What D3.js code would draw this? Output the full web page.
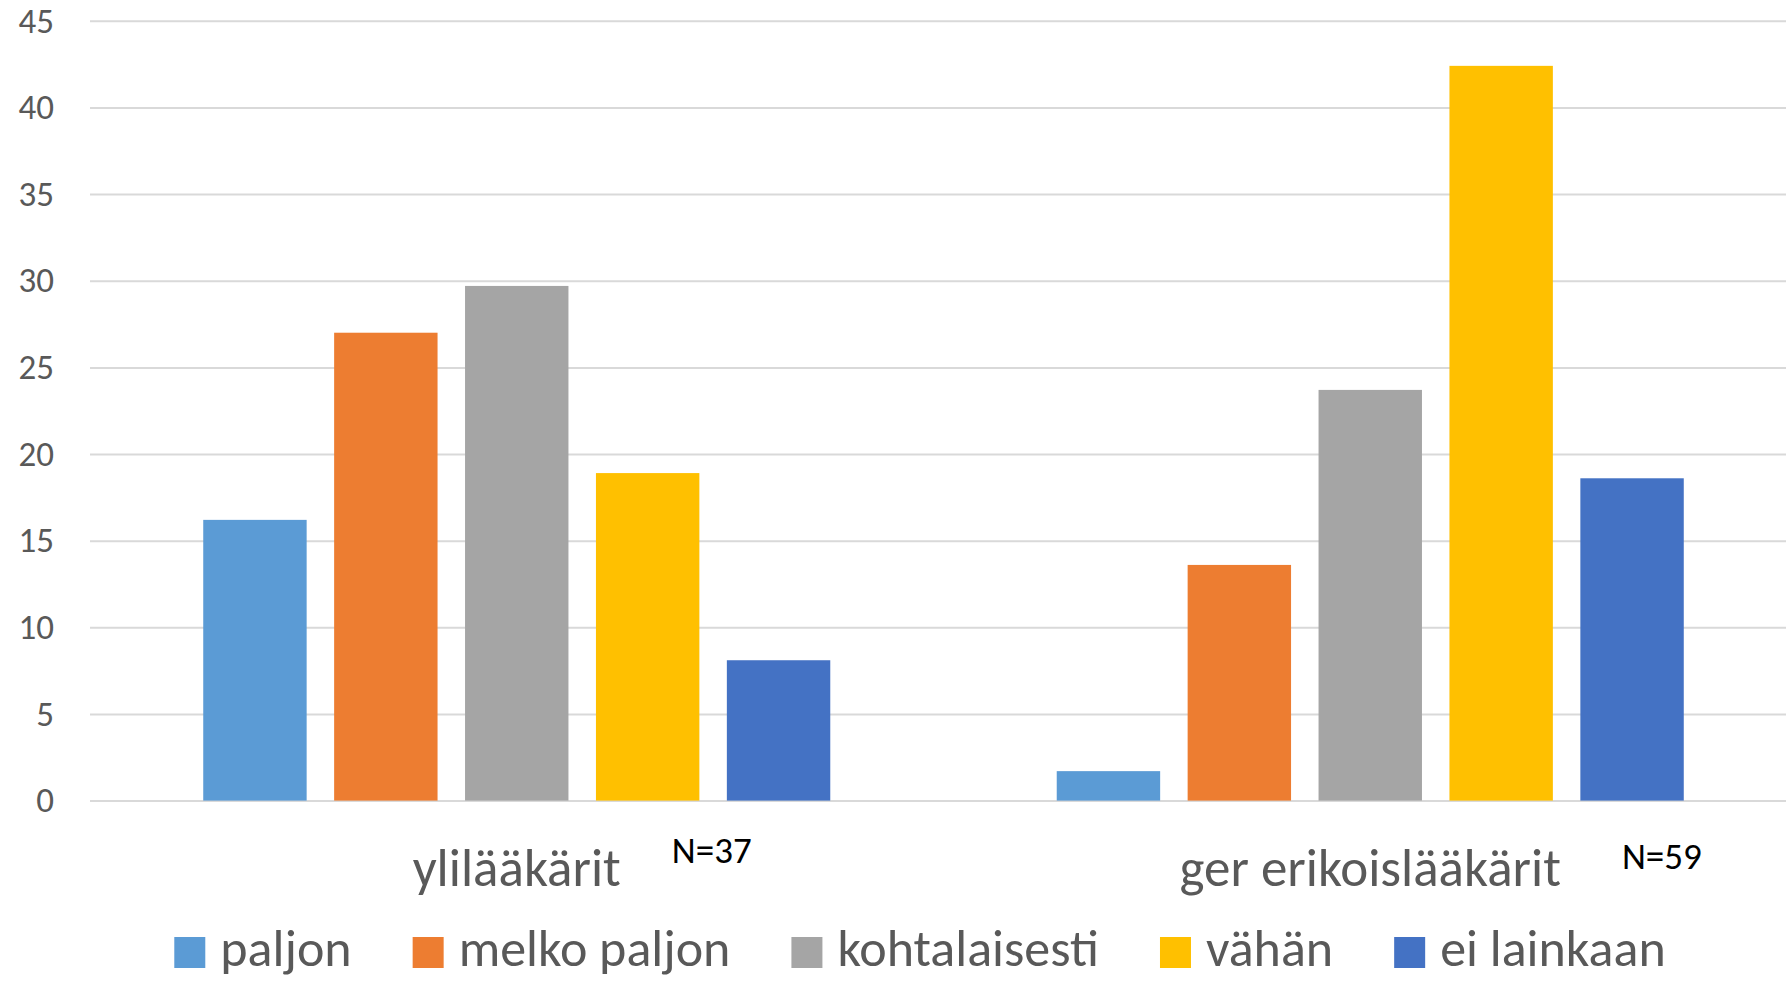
<!DOCTYPE html>
<html>
<head>
<meta charset="utf-8">
<script src="https://cdn.jsdelivr.net/npm/d3@7"></script>
<style>
  body { margin: 0; background: #fff; }
  svg { display: block; font-family: Carlito, Calibri, Lato, sans-serif; }
</style>
</head>
<body>
<div id="chart"></div>
<script>
// data (percent of respondents)
var categories = ["ylilääkärit", "ger erikoislääkärit"];
var groupNotes = ["N=37", "N=59"];
var seriesNames = ["paljon", "melko paljon", "kohtalaisesti", "vähän", "ei lainkaan"];
var ylilaakarit = [16.2, 27.0, 29.7, 18.9, 8.1];
var gerErikoislaakarit = [1.7, 13.6, 23.7, 42.4, 18.6];
var yTicks = [0, 5, 10, 15, 20, 25, 30, 35, 40, 45];
var colors = ["#5B9BD5", "#ED7D31", "#A5A5A5", "#FFC000", "#4472C4"];

var values = [ylilaakarit, gerErikoislaakarit];

var W = 1786, H = 983;
var plotLeft = 90, plotRight = 1797, gridRight = 1786;
var yTop = 20.8, yBottom = 800.6;

var svg = d3.select("#chart").append("svg")
    .attr("width", W)
    .attr("height", H);

var y = d3.scaleLinear().domain([0, 45]).range([yBottom, yTop]);
var x0 = d3.scaleBand().domain(categories).range([plotLeft, plotRight]);
var x1 = d3.scaleBand().domain(seriesNames)
    .range([0, x0.bandwidth()])
    .paddingInner(0.21)
    .paddingOuter(0.865);

// gridlines + y tick labels
var yAxis = d3.axisLeft(y)
    .tickValues(yTicks)
    .tickSize(-(gridRight - plotLeft))
    .tickPadding(36)
    .tickFormat(d3.format("d"));

var gy = svg.append("g")
    .attr("transform", "translate(" + plotLeft + ",0)")
    .call(yAxis);
gy.select(".domain").remove();
gy.selectAll(".tick line")
    .attr("stroke", "#d9d9d9")
    .attr("stroke-width", 2);
gy.selectAll(".tick text")
    .attr("fill", "#595959")
    .style("font-size", "35px")
    .style("font-family", "Carlito, Calibri, Lato, sans-serif");

// bars
var groups = svg.selectAll("g.group")
    .data(categories)
  .enter().append("g")
    .attr("class", "group")
    .attr("transform", function(d) { return "translate(" + x0(d) + ",0)"; });

groups.selectAll("rect")
    .data(function(d, i) {
        return seriesNames.map(function(s, j) { return {name: s, value: values[i][j], idx: j}; });
    })
  .enter().append("rect")
    .attr("x", function(d) { return x1(d.name); })
    .attr("y", function(d) { return y(d.value); })
    .attr("width", x1.bandwidth())
    .attr("height", function(d) { return y(0) - y(d.value); })
    .attr("fill", function(d) { return colors[d.idx]; });

// category labels
var catLabels = svg.selectAll("text.cat")
    .data(categories)
  .enter().append("text")
    .attr("class", "cat")
    .attr("x", function(d) { return x0(d) + x0.bandwidth() / 2; })
    .attr("y", 886)
    .attr("text-anchor", "middle")
    .attr("fill", "#595959")
    .style("font-size", "53px")
    .text(function(d) { return d; });

// N= notes placed after each category label
var noteBaseline = [863, 869];
var noteGap = [51, 61];
catLabels.each(function(d, i) {
    var bb = this.getBBox();
    svg.append("text")
        .attr("x", bb.x + bb.width + noteGap[i])
        .attr("y", noteBaseline[i])
        .attr("fill", "#000")
        .style("font-size", "37px")
        .text(groupNotes[i]);
});

// legend
var legend = svg.append("g").attr("class", "legend");
var lx = 0;
seriesNames.forEach(function(s, i) {
    var item = legend.append("g").attr("transform", "translate(" + lx + ",0)");
    item.append("rect")
        .attr("x", 0)
        .attr("y", 937)
        .attr("width", 31)
        .attr("height", 31)
        .attr("fill", colors[i]);
    var t = item.append("text")
        .attr("x", 46)
        .attr("y", 966)
        .attr("fill", "#595959")
        .style("font-size", "52px")
        .text(s);
    lx += 46 + t.node().getComputedTextLength() + 61;
});
var legendWidth = lx - 61;
legend.attr("transform", "translate(" + (920 - legendWidth / 2) + ",0)");
</script>
</body>
</html>
